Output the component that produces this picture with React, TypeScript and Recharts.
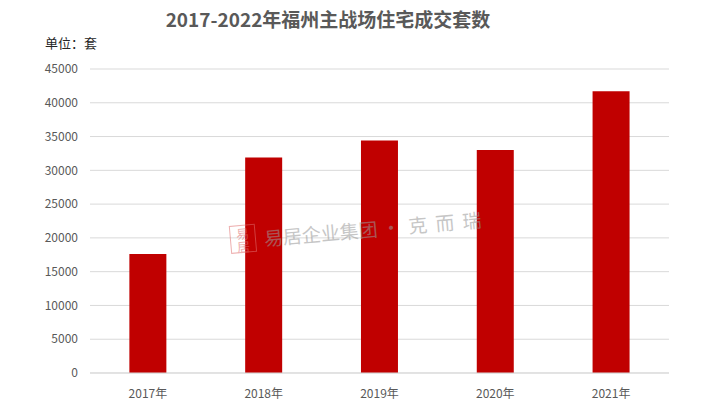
import React from "react";
import { BarChart, Bar, XAxis, YAxis, CartesianGrid } from "recharts";

// Values
const years: string[] = ["2017年", "2018年", "2019年", "2020年", "2021年"];
const deals: number[] = [17600, 31900, 34400, 33000, 41700];
const yTicks: number[] = [0, 5000, 10000, 15000, 20000, 25000, 30000, 35000, 40000, 45000];

const data = years.map((year, i) => ({ year, deals: deals[i] }));

const FONT = '"Noto Sans CJK SC", "Noto Sans", sans-serif';

const App: React.FC = () => {
  return (
    <div
      style={{
        position: "absolute",
        left: 0,
        top: 0,
        width: 703,
        height: 406,
        background: "#fff",
        fontFamily: FONT,
      }}
    >
      <div
        style={{
          position: "absolute",
          left: 0,
          top: 9,
          width: 656,
          textAlign: "center",
          fontSize: 19,
          lineHeight: "19px",
          fontWeight: 700,
          color: "#595959",
        }}
      >
        2017-2022年福州主战场住宅成交套数
      </div>
      <div
        style={{
          position: "absolute",
          left: 45,
          top: 36,
          fontSize: 13,
          lineHeight: "13px",
          color: "#262626",
        }}
      >
        单位：套
      </div>
      <BarChart
        width={703}
        height={406}
        data={data}
        margin={{ top: 69, right: 34, bottom: 0, left: 0 }}
        barCategoryGap="34%"
      >
        <CartesianGrid vertical={false} stroke="#d9d9d9" />
        <XAxis
          dataKey="year"
          height={33}
          axisLine={{ stroke: "#d9d9d9" }}
          tickLine={false}
          tickMargin={10}
          tick={{ fill: "#595959", fontSize: 12, fontFamily: FONT }}
        />
        <YAxis
          width={90}
          domain={[0, 45000]}
          ticks={yTicks}
          axisLine={false}
          tickLine={false}
          tickMargin={6}
          tick={{ fill: "#595959", fontSize: 12, fontFamily: FONT }}
        />
        <Bar dataKey="deals" fill="#c00000" isAnimationActive={false} />
      </BarChart>
      {/* watermark */}
      <div
        style={{
          position: "absolute",
          left: 230,
          top: 226,
          display: "flex",
          alignItems: "center",
          transform: "rotate(-5deg)",
          transformOrigin: "left center",
          pointerEvents: "none",
          opacity: 0.55,
        }}
      >
        <div
          style={{
            width: 26,
            height: 28,
            border: "1.5px solid #e07070",
            color: "#e07070",
            fontSize: 13,
            lineHeight: "13px",
            textAlign: "center",
            boxSizing: "border-box",
            paddingTop: 1,
          }}
        >
          易居
        </div>
        <div style={{ marginLeft: 8, fontSize: 19, color: "#999" }}>
          易居企业集团
          <span style={{ letterSpacing: 8, marginLeft: 4 }}>·克而瑞</span>
        </div>
      </div>
    </div>
  );
};

export default App;
